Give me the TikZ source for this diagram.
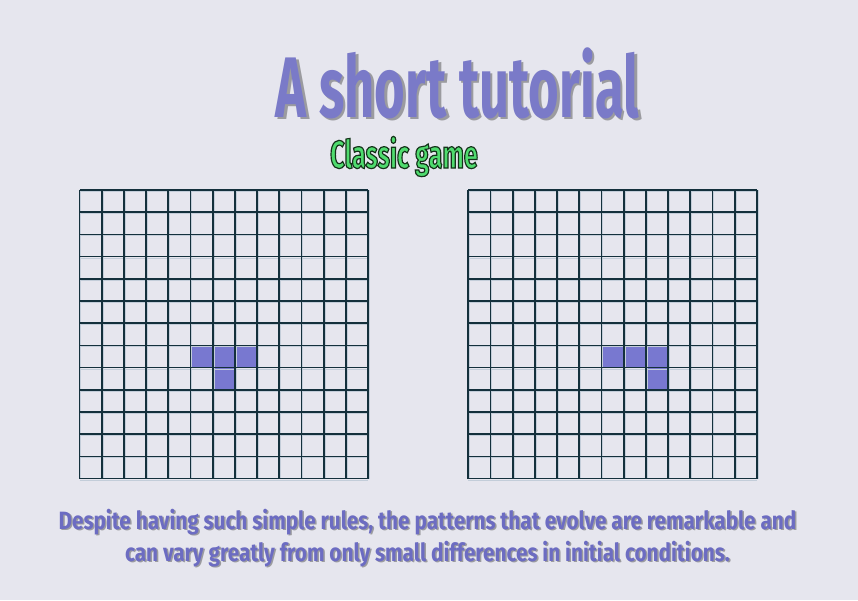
\documentclass[tikz,border=0pt]{standalone}
\usepackage{fontspec}
\usepackage{xcolor}
\newfontfamily\titlefont{Fira Sans}[FakeStretch=0.61]
\newfontfamily\subfont{Fira Sans}[FakeStretch=0.65, FakeBold=3]
\newfontfamily\notefont{Fira Sans}[FakeStretch=0.83]
\definecolor{pagebg}{HTML}{E6E6EE}
\definecolor{titleblue}{HTML}{7A7AC8}
\definecolor{noteblue}{HTML}{6C6CC2}
\definecolor{gridteal}{HTML}{14303C}
\definecolor{gridshadow}{HTML}{C3CDD9}
\definecolor{cellblue}{HTML}{7878D0}
% green fill, dark stroke for the outlined heading
\newcommand{\outlined}[1]{\special{pdf:bcolor [0.31 0.86 0.43] [0.08 0.2 0.1]}#1\special{pdf:ecolor}}

\begin{document}
\begin{tikzpicture}[x=1pt, y=-1pt,
  gridline/.style={draw=gridteal, line width=1.7pt},
  gridshade/.style={draw=gridshadow, line width=0.8pt},
  live/.style={fill=cellblue},
  shade/.style={text=black!75, opacity=0.45},
  title/.style={font=\titlefont\bfseries\fontsize{86}{90}\selectfont, anchor=base, inner sep=0pt},
  note/.style={font=\notefont\bfseries\fontsize{25}{32}\selectfont, anchor=base, inner sep=0pt}
]
\useasboundingbox (0,0) rectangle (858,600);
\fill[pagebg] (0,0) rectangle (858,600);

% ---- heading ------------------------------------------------------------
\node[title, shade] (titleshade) at (460,119) {A short tutorial};
\node[title, text=titleblue] (title) at (457.5,117) {A short tutorial};
\node[anchor=base, inner sep=0pt, font=\subfont\bfseries\fontsize{39}{42}\selectfont]
  (sub) at (404,168) {\outlined{Classic game}};

% ---- boards -------------------------------------------------------------
\foreach \bx/\cells in {79.5/{5/7,6/7,7/7,6/8}, 468.3/{6/7,7/7,8/7,8/8}} {
  \foreach \c/\r in \cells
    \fill[live] (\bx+\c*22.2,190+\r*22.2) rectangle ++(22.2,22.2);
  \foreach \i in {0,...,13} {
    \draw[gridshade] (\bx+\i*22.2+1.3,190) -- ++(0,288.6);
    \draw[gridshade] (\bx,190+\i*22.2+1.3) -- ++(288.6,0);
  }
  \foreach \i in {0,...,13} {
    \draw[gridline] (\bx+\i*22.2,190) -- ++(0,288.6);
    \draw[gridline] (\bx,190+\i*22.2) -- ++(288.6,0);
  }
}

% ---- caption ------------------------------------------------------------
\node[note, shade] (noteshadeA) at (429,530.5)
  {Despite having such simple rules, the patterns that evolve are remarkable and};
\node[note, text=noteblue] (noteA) at (427.5,529)
  {Despite having such simple rules, the patterns that evolve are remarkable and};
\node[note, shade] (noteshadeB) at (429,562.5)
  {can vary greatly from only small differences in initial conditions.};
\node[note, text=noteblue] (noteB) at (427.5,561)
  {can vary greatly from only small differences in initial conditions.};
\end{tikzpicture}
\end{document}
